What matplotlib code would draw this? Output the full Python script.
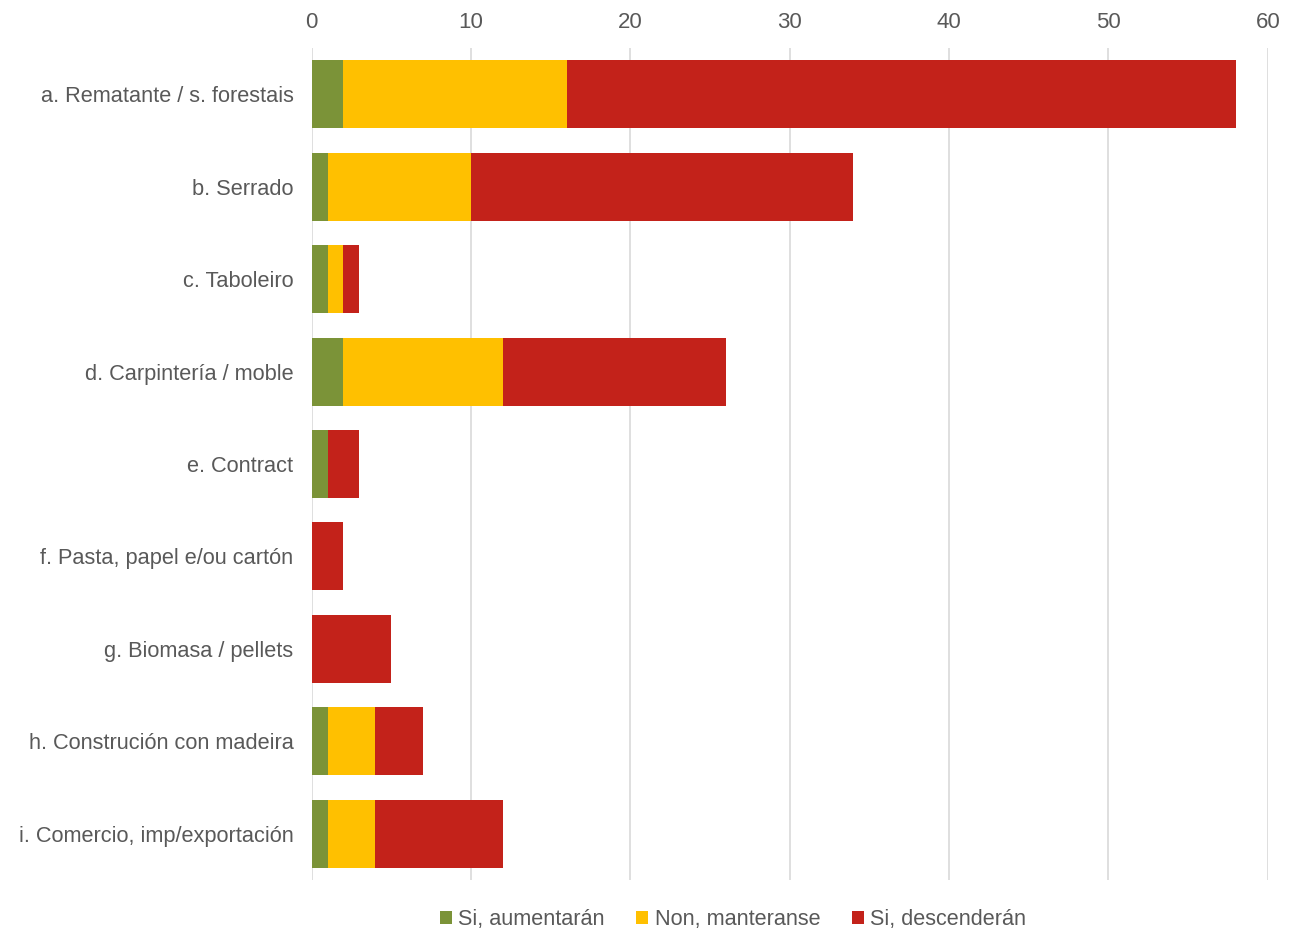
import numpy as np
import matplotlib.pyplot as plt

plt.rcParams['font.family'] = ['Liberation Sans', 'DejaVu Sans']

categories = [
    "a. Rematante / s. forestais",
    "b. Serrado",
    "c. Taboleiro",
    "d. Carpintería / moble",
    "e. Contract",
    "f. Pasta, papel e/ou cartón",
    "g. Biomasa / pellets",
    "h. Construción con madeira",
    "i. Comercio, imp/exportación",
]
aumentaran = [2, 1, 1, 2, 1, 0, 0, 1, 1]
manteranse = [14, 9, 1, 10, 0, 0, 0, 3, 3]
descenderan = [42, 24, 1, 14, 2, 2, 5, 3, 8]

series = [
    ("Si, aumentarán", aumentaran, "#7B9338"),
    ("Non, manteranse", manteranse, "#FFC000"),
    ("Si, descenderán", descenderan, "#C3221A"),
]

text_col = "#595959"

fig = plt.figure(figsize=(12.93, 9.33), dpi=100)
ax = fig.add_axes([0.241, 0.0568, 0.7395, 0.8918])

y = np.arange(len(categories))
left = np.zeros(len(categories))
for label, vals, col in series:
    vals = np.array(vals, dtype=float)
    ax.barh(y, vals, left=left, height=0.735, color=col, label=label, zorder=3)
    left += vals

ax.set_ylim(len(categories) - 0.5, -0.5)
ax.set_yticks(y)
ax.set_yticklabels(categories)
ax.set_xlim(0, 60)
ax.set_xticks(range(0, 61, 10))
ax.xaxis.tick_top()
ax.tick_params(axis='x', length=0, labelsize=16, colors=text_col, pad=11)
ax.tick_params(axis='y', length=0, labelsize=15.7, colors=text_col, pad=13)
ax.grid(axis='x', color="#D9D9D9", linewidth=1.2, zorder=0)
for s in ax.spines.values():
    s.set_visible(False)

fig.legend(loc='lower center', bbox_to_anchor=(0.567, -0.018), ncol=3, frameon=False,
           fontsize=15.6, labelcolor=text_col, handlelength=0.55, handleheight=0.55,
           handletextpad=0.3, columnspacing=1.45)

fig.savefig("out.png", dpi=100)
